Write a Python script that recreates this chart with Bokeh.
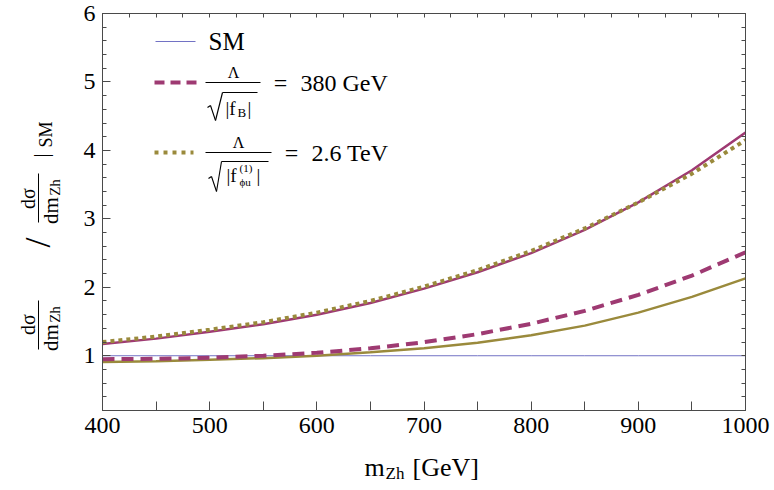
from bokeh.plotting import figure
from bokeh.layouts import row, column
from bokeh.models import Range1d, LinearAxis, FixedTicker, Label, Arrow
from bokeh.embed import file_html
from bokeh.resources import INLINE

# ---------------- data ----------------
m_zh = [400, 450, 500, 550, 600, 650, 700, 750, 800, 850, 900, 950, 1000]
ratio_sm = [1.0, 1.0, 1.0, 1.0, 1.0, 1.0, 1.0, 1.0, 1.0, 1.0, 1.0, 1.0, 1.0]
ratio_fB_pos = [1.17, 1.25, 1.35, 1.46, 1.60, 1.77, 1.98, 2.22, 2.50, 2.84, 3.24, 3.71, 4.26]
ratio_fB_neg = [0.95, 0.955, 0.97, 1.00, 1.043, 1.108, 1.198, 1.316, 1.467, 1.656, 1.889, 2.171, 2.51]
ratio_fphiu_pos = [1.20, 1.28, 1.38, 1.49, 1.63, 1.80, 2.01, 2.25, 2.53, 2.86, 3.24, 3.66, 4.15]
ratio_fphiu_neg = [0.91, 0.92, 0.94, 0.965, 1.00, 1.05, 1.11, 1.19, 1.30, 1.44, 1.63, 1.86, 2.13]

x_major_ticks = [400, 500, 600, 700, 800, 900, 1000]
x_minor_ticks = [450, 550, 650, 750, 850, 950]
x_top_ticks = [400 + 25 * i for i in range(25)]
y_major_ticks = [1, 2, 3, 4, 5, 6]
y_minor_ticks = [round(0.2 * i, 1) for i in range(1, 31)]

legend_sm = "SM"
legend_fB_value = "380 GeV"
legend_fphiu_value = "2.6 TeV"

# ---------------- style / layout ----------------
FONT = "Liberation Serif"
MAG = "#9e3a72"
OLV = "#9a8a3c"
SMC = "#7272c4"
FRAME = "#4a4a4a"
W, H = 774, 490
YL_W = 70            # strip holding the y-axis title
XL_H = 42            # strip holding the x-axis title
FL, FT, FR, FB = 102, 13, 745, 410   # frame edges in page pixels

MAIN_W, MAIN_H = W - YL_W, H - XL_H

p = figure(width=MAIN_W, height=MAIN_H, x_range=Range1d(400, 1000), y_range=Range1d(0.2, 6),
           output_backend="svg", toolbar_location=None,
           min_border_left=FL - YL_W, min_border_right=W - FR, min_border_top=FT,
           min_border_bottom=MAIN_H - FB)
p.xgrid.visible = False
p.ygrid.visible = False
p.outline_line_color = FRAME
p.background_fill_color = "white"
p.border_fill_color = "white"

def style_axis(ax, ticker, labels=True, standoff=6, tick_len=8, minor_len=4):
    ax.ticker = ticker
    ax.axis_line_color = FRAME
    ax.major_tick_line_color = FRAME
    ax.minor_tick_line_color = FRAME
    ax.major_tick_in = tick_len
    ax.major_tick_out = 0
    ax.minor_tick_in = minor_len
    ax.minor_tick_out = 0
    if labels:
        ax.major_label_text_font = FONT
        ax.major_label_text_font_size = "24px"
        ax.major_label_text_color = "black"
        ax.major_label_standoff = standoff
    else:
        ax.major_label_text_font_size = "0px"
        ax.major_label_text_color = None
        ax.major_label_standoff = 0

style_axis(p.xaxis[0], FixedTicker(ticks=x_major_ticks, minor_ticks=x_minor_ticks),
           standoff=7, tick_len=9, minor_len=9)
style_axis(p.yaxis[0], FixedTicker(ticks=y_major_ticks, minor_ticks=y_minor_ticks),
           standoff=7, tick_len=8, minor_len=4)

top = LinearAxis()
style_axis(top, FixedTicker(ticks=x_top_ticks, minor_ticks=[]), labels=False, tick_len=4)
p.add_layout(top, "above")
right = LinearAxis()
style_axis(right, FixedTicker(ticks=y_minor_ticks, minor_ticks=[]), labels=False, tick_len=4)
p.add_layout(right, "right")

# ---------------- curves ----------------
p.line(m_zh, ratio_sm, line_color=SMC, line_width=1)
p.line(m_zh, ratio_fphiu_neg, line_color=OLV, line_width=2.5)
p.line(m_zh, ratio_fB_neg, line_color=MAG, line_width=4, line_dash="12 7")
p.line(m_zh, ratio_fB_pos, line_color=MAG, line_width=2.5)
p.line(m_zh, ratio_fphiu_pos, line_color=OLV, line_width=4, line_dash="4 4")

# ---------------- helpers: page-pixel placement inside a figure's frame ----------------
def make_lab(fig, ox, oy_bottom):
    def lab(px, py, text, size, align="left", baseline="middle", angle=0.0, color="black"):
        fig.add_layout(Label(x=px - ox, y=oy_bottom - py, x_units="screen", y_units="screen",
                             text=text, text_font=FONT, text_font_size=f"{size}px",
                             text_align=align, text_baseline=baseline, angle=angle,
                             angle_units="deg", text_color=color))
    def seg(pts, color="black", width=1.0, dash="solid"):
        for (x0, y0), (x1, y1) in zip(pts[:-1], pts[1:]):
            fig.add_layout(Arrow(end=None, x_start=x0 - ox, y_start=oy_bottom - y0,
                                 x_end=x1 - ox, y_end=oy_bottom - y1,
                                 start_units="screen", end_units="screen", line_color=color,
                                 line_width=width, line_dash=dash))
    return lab, seg

lab, seg = make_lab(p, FL, FB)

# ---------------- legend ----------------
seg([(155, 41), (195, 41)], SMC, 1)
lab(208, 41, legend_sm, 25)

seg([(154, 82), (196, 82)], MAG, 4, "10 6")
lab(233, 72, "Λ", 16, align="center")
seg([(205, 82), (260, 82)], "black", 1)
seg([(207, 107), (210, 105), (215, 120), (222, 92), (257, 92)], "black", 1.1)
lab(225, 108, "|f", 19)
lab(237, 112, "B", 13)
lab(247, 108, "|", 19)
lab(280, 82, "=", 24, align="center")
lab(300, 82, legend_fB_value, 24)

seg([(154, 152), (193, 152)], OLV, 4, "4 5")
lab(238, 142, "Λ", 16, align="center")
seg([(205, 152), (271, 152)], "black", 1)
seg([(208, 178), (211, 176), (216, 191), (221, 161), (268, 161)], "black", 1.1)
lab(226, 175, "|f", 19)
lab(239, 167, "(1)", 11)
lab(239, 181, "ϕu", 11)
lab(256, 175, "|", 19)
lab(291, 152, "=", 24, align="center")
lab(311, 152, legend_fphiu_value, 24)

# ---------------- y-axis title strip (frame = whole strip), rotated pieces ----------------
ylab_fig = figure(width=YL_W, height=H, x_range=Range1d(0, 1), y_range=Range1d(0, 1),
                  x_axis_type=None, y_axis_type=None, output_backend="svg",
                  toolbar_location=None, min_border=0, outline_line_color=None)
ylab_fig.grid.visible = False
ylab, yseg = make_lab(ylab_fig, 0, H)
# lower fraction  d sigma / d m_Zh
ylab(27, 324, "dσ", 20, align="center", angle=90)
yseg([(38, 300), (38, 349)], "black", 1)
ylab(50, 337, "dm", 21, align="center", angle=90)
ylab(54, 314, "Zh", 15, align="center", angle=90)
# slash
ylab(37, 242, "/", 36, align="center", angle=90)
# upper fraction
ylab(27, 198, "dσ", 20, align="center", angle=90)
yseg([(38, 173), (38, 222)], "black", 1)
ylab(50, 210, "dm", 21, align="center", angle=90)
ylab(54, 187, "Zh", 15, align="center", angle=90)
# |SM
ylab(40, 155, "|", 22, align="center", angle=90)
ylab(45, 134, "SM", 18, align="center", angle=90)

# ---------------- x-axis title strip (frame aligned with the main frame) ----------------
xlab_fig = figure(width=MAIN_W, height=XL_H, x_range=Range1d(0, 1), y_range=Range1d(0, 1),
                  x_axis_type=None, y_axis_type=None, output_backend="svg",
                  toolbar_location=None, min_border=0, outline_line_color=None)
xlab_fig.grid.visible = False
xlab, _ = make_lab(xlab_fig, FL, H)
xlab(364, 467, "m", 26)
xlab(385, 473, "Zh", 17)
xlab(412, 467, "[GeV]", 26)

layout = row(ylab_fig, column(p, xlab_fig, spacing=0), spacing=0)
open("out.html", "w").write(file_html(layout, INLINE))
